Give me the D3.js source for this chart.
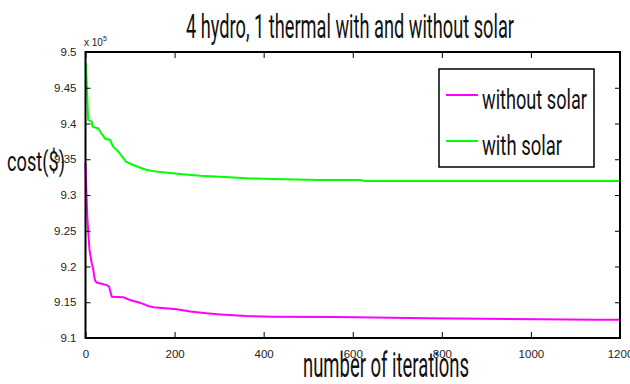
<!DOCTYPE html>
<html lang="en">
<head>
<meta charset="UTF-8">
<script src="https://d3js.org/d3.v7.min.js"></script>
<style>
  body { margin: 0; background: #fff; }
  svg { display: block; }
</style>
</head>
<body>
<div id="chart"></div>
<script>
  // iteration number / cost (x 10^5)
  const withoutIter = [0, 1, 4, 6, 9, 14, 17, 21, 25, 48, 53, 59, 85, 100, 122, 141, 152, 205, 235, 272, 302, 362, 418, 564, 770, 1148, 1200];
  const withoutCost = [9.345, 9.321, 9.270, 9.251, 9.223, 9.2045, 9.1975, 9.181, 9.1775, 9.174, 9.1717, 9.1578, 9.157, 9.1532, 9.1494, 9.1448, 9.143, 9.1402, 9.137, 9.1345, 9.133, 9.1308, 9.1298, 9.1292, 9.1275, 9.1255, 9.1255];
  const withIter = [0, 1, 4, 6, 14, 16, 29, 33, 44, 55, 62, 74, 91, 107, 137, 167, 212, 257, 302, 362, 444, 526, 616, 627, 1200];
  const withCost = [9.485, 9.483, 9.4375, 9.405, 9.4025, 9.3955, 9.393, 9.3885, 9.379, 9.377, 9.3675, 9.3605, 9.3465, 9.342, 9.335, 9.332, 9.3295, 9.327, 9.3255, 9.3235, 9.322, 9.321, 9.321, 9.3195, 9.3195];
  const xTicks = [0, 200, 400, 600, 800, 1000, 1200];
  const yTicks = [9.1, 9.15, 9.2, 9.25, 9.3, 9.35, 9.4, 9.45, 9.5];
  const seriesNames = ["without solar", "with solar"];
  const seriesColors = ["#ff00ff", "#00ff00"];

  const width = 630, height = 384;
  const margin = { left: 85.5, right: 10, top: 52, bottom: 46 };
  const plotRight = width - margin.right;
  const plotBottom = height - margin.bottom;

  const svg = d3.select("#chart").append("svg")
    .attr("width", width)
    .attr("height", height);

  const x = d3.scaleLinear().domain([0, 1200]).range([margin.left, plotRight]);
  const y = d3.scaleLinear().domain([9.1, 9.5]).range([plotBottom, margin.top]);

  const fmt = d => String(+d.toFixed(2));
  const tickFont = "'Liberation Sans', Arial, sans-serif";
  const bigFont = "Roboto, 'DejaVu Sans', sans-serif";

  // lines
  const line = d3.line().x(d => x(d[0])).y(d => y(d[1]));
  const series = [d3.zip(withoutIter, withoutCost), d3.zip(withIter, withCost)];
  series.forEach((s, i) => {
    svg.append("path")
      .datum(s)
      .attr("fill", "none")
      .attr("stroke", seriesColors[i])
      .attr("stroke-width", 2)
      .attr("d", line);
  });

  // axes
  const axisStyle = g => {
    g.select(".domain").remove();
    g.selectAll(".tick line").attr("stroke", "#000").attr("stroke-width", 1);
    g.selectAll(".tick text").attr("fill", "#222").style("font-family", tickFont).style("font-size", "11.5px");
  };

  svg.append("g")
    .attr("transform", `translate(${margin.left},0)`)
    .call(d3.axisLeft(y).tickValues(yTicks).tickFormat(fmt).tickSizeInner(-5).tickPadding(9))
    .call(axisStyle);
  svg.append("g")
    .attr("transform", `translate(${plotRight},0)`)
    .call(d3.axisRight(y).tickValues(yTicks).tickFormat("").tickSizeInner(-5))
    .call(axisStyle);
  svg.append("g")
    .attr("transform", `translate(0,${plotBottom})`)
    .call(d3.axisBottom(x).tickValues(xTicks).tickFormat(d3.format("d")).tickSizeInner(-6).tickPadding(12))
    .call(axisStyle);
  svg.append("g")
    .attr("transform", `translate(0,${margin.top})`)
    .call(d3.axisTop(x).tickValues(xTicks).tickFormat("").tickSizeInner(-6))
    .call(axisStyle);

  // frame
  svg.append("rect")
    .attr("x", margin.left).attr("y", margin.top)
    .attr("width", plotRight - margin.left).attr("height", plotBottom - margin.top)
    .attr("fill", "none").attr("stroke", "#000").attr("stroke-width", 2);

  // exponent
  const expo = svg.append("text")
    .attr("x", 84).attr("y", 46)
    .attr("fill", "#222")
    .style("font-family", tickFont).style("font-size", "10px")
    .text("x 10");
  expo.append("tspan").attr("dy", -5).style("font-size", "7px").text("5");

  // title and labels
  svg.append("text")
    .attr("x", 186).attr("y", 38)
    .attr("textLength", 328).attr("lengthAdjust", "spacingAndGlyphs")
    .style("font-family", bigFont).style("font-size", "34px").attr("fill", "#111")
    .text("4 hydro, 1 thermal with and without solar");

  svg.append("text")
    .attr("x", 7).attr("y", 171)
    .attr("textLength", 58).attr("lengthAdjust", "spacingAndGlyphs")
    .style("font-family", bigFont).style("font-size", "28px").attr("fill", "#111")
    .text("cost($)");

  svg.append("text")
    .attr("x", 303).attr("y", 377)
    .attr("textLength", 166).attr("lengthAdjust", "spacingAndGlyphs")
    .style("font-family", bigFont).style("font-size", "35px").attr("fill", "#111")
    .text("number of iterations");

  // legend
  const legend = svg.append("g");
  legend.append("rect")
    .attr("x", 439).attr("y", 69).attr("width", 155).attr("height", 98)
    .attr("fill", "#fff").attr("stroke", "#000").attr("stroke-width", 1.5);
  const legendY = [95, 141];
  const legendLen = [105, 80];
  seriesNames.forEach((name, i) => {
    legend.append("line")
      .attr("x1", 446).attr("x2", 478)
      .attr("y1", legendY[i]).attr("y2", legendY[i])
      .attr("stroke", seriesColors[i]).attr("stroke-width", 2);
    legend.append("text")
      .attr("x", 482).attr("y", legendY[i] + 14)
      .attr("textLength", legendLen[i]).attr("lengthAdjust", "spacingAndGlyphs")
      .style("font-family", bigFont).style("font-size", "28px").attr("fill", "#111")
      .text(name);
  });
</script>
</body>
</html>
